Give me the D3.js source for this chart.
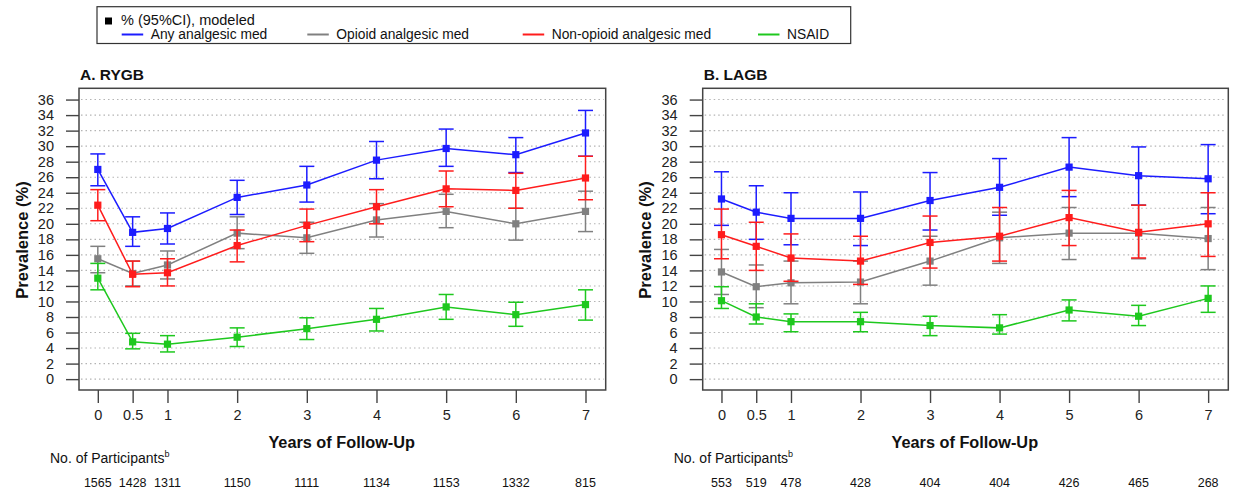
<!DOCTYPE html>
<html><head><meta charset="utf-8">
<script src="https://cdn.jsdelivr.net/npm/d3@7"></script>
<style>
html,body{margin:0;padding:0;background:#fff;}
svg{display:block;font-family:"Liberation Sans",Arial,sans-serif;}
</style></head>
<body>
<svg id="chart" width="1233" height="491"></svg>
<script>
// ---- data ----
const years = [0, 0.5, 1, 2, 3, 4, 5, 6, 7];
const yearLabels = ["0", "0.5", "1", "2", "3", "4", "5", "6", "7"];
const yTickValues = [0,2,4,6,8,10,12,14,16,18,20,22,24,26,28,30,32,34,36];
const seriesNames = ["Any analgesic med", "Opioid analgesic med", "Non-opioid analgesic med", "NSAID"];
const seriesColors = ["#1c1cff", "#808080", "#ff1c1c", "#1ec81e"];
const panelTitles = ["A. RYGB", "B. LAGB"];

// [estimate, lower CI, upper CI]
const rygbAny = [[27.0,24.9,29.0],[18.9,17.1,20.9],[19.4,17.4,21.4],[23.4,21.2,25.6],[25.0,22.8,27.4],[28.2,25.8,30.6],[29.7,27.4,32.2],[28.9,26.6,31.1],[31.7,28.7,34.6]];
const rygbOpioid = [[15.5,13.7,17.1],[13.6,12.0,15.2],[14.7,12.9,16.5],[18.8,16.8,20.9],[18.2,16.2,20.2],[20.5,18.3,22.6],[21.6,19.5,23.8],[20.0,17.9,22.0],[21.6,19.0,24.2]];
const rygbNonOpioid = [[22.4,20.4,24.4],[13.5,11.9,15.2],[13.7,12.0,15.5],[17.2,15.1,19.2],[19.8,17.7,21.9],[22.2,20.0,24.4],[24.5,22.2,26.8],[24.3,22.0,26.5],[25.9,23.1,28.7]];
const rygbNSAID = [[13.0,11.5,14.9],[4.8,3.9,5.9],[4.5,3.5,5.6],[5.4,4.2,6.6],[6.5,5.1,7.9],[7.7,6.2,9.1],[9.3,7.7,10.9],[8.3,6.8,9.9],[9.6,7.6,11.5]];

const lagbAny = [[23.2,19.8,26.7],[21.5,18.0,24.9],[20.7,17.3,24.0],[20.7,17.2,24.1],[23.0,19.2,26.6],[24.7,21.1,28.4],[27.3,23.5,31.1],[26.2,22.4,29.9],[25.8,21.3,30.2]];
const lagbOpioid = [[13.8,10.9,16.7],[11.9,9.2,14.7],[12.4,9.7,15.2],[12.5,9.7,15.2],[15.2,12.1,18.4],[18.2,14.9,21.5],[18.8,15.4,22.1],[18.8,15.5,22.4],[18.1,14.1,22.1]];
const lagbNonOpioid = [[18.6,15.5,21.9],[17.1,14.0,20.2],[15.6,12.6,18.7],[15.2,12.2,18.4],[17.6,14.3,21.0],[18.4,15.2,22.1],[20.8,17.2,24.3],[18.9,15.6,22.4],[20.0,15.8,24.0]];
const lagbNSAID = [[10.1,9.1,11.9],[8.0,7.1,9.7],[7.4,6.1,8.4],[7.4,6.1,8.6],[6.9,5.6,8.1],[6.6,5.8,8.3],[8.9,7.5,10.2],[8.1,6.9,9.5],[10.4,8.6,12.0]];

const rygbN = [1565, 1428, 1311, 1150, 1111, 1134, 1153, 1332, 815];
const lagbN = [553, 519, 478, 428, 404, 404, 426, 465, 268];

// ---- layout ----
const svg = d3.select("#chart");
const panels = [
  {title: panelTitles[0], left: 79, right: 605.7, series: [rygbAny, rygbOpioid, rygbNonOpioid, rygbNSAID], n: rygbN},
  {title: panelTitles[1], left: 702.7, right: 1228.3, series: [lagbAny, lagbOpioid, lagbNonOpioid, lagbNSAID], n: lagbN}
];
const plotTop = 88.3, plotBottom = 390;

panels.forEach(p => {
  const x = d3.scaleLinear().domain([-0.27, 7.29]).range([p.left, p.right]);
  const y = d3.scaleLinear().domain([-1.4, 37.45]).range([plotBottom, plotTop]);
  const g = svg.append("g");

  // grid
  g.selectAll("line.grid").data(yTickValues).join("line").attr("class", "grid")
    .attr("x1", p.left + 2).attr("x2", p.right - 2)
    .attr("y1", d => y(d)).attr("y2", d => y(d))
    .attr("stroke", "#b4b4b4").attr("stroke-width", 1.1)
    .attr("stroke-dasharray", "1.5,3");

  // axes
  const ya = d3.axisLeft(y).tickValues(yTickValues).tickSize(13).tickPadding(12).tickFormat(d3.format("d"));
  const yg = g.append("g").attr("transform", `translate(${p.left},0)`).call(ya);
  const xa = d3.axisBottom(x).tickValues(years).tickSize(13).tickPadding(7).tickFormat((d, i) => yearLabels[i]);
  const xg = g.append("g").attr("transform", `translate(0,${plotBottom})`).call(xa);
  [yg, xg].forEach(a => {
    a.select(".domain").remove();
    a.selectAll(".tick line").attr("stroke", "#444").attr("stroke-width", 1.4);
    a.selectAll(".tick text").attr("fill", "#222").style("font-size", "14.5px").style("font-family", '"Liberation Sans",Arial,sans-serif');
  });

  // box
  g.append("rect").attr("x", p.left).attr("y", plotTop).attr("width", p.right - p.left).attr("height", plotBottom - plotTop)
    .attr("fill", "none").attr("stroke", "#444").attr("stroke-width", 1.5);

  // series
  p.series.forEach((s, si) => {
    const col = seriesColors[si];
    const sg = g.append("g");
    s.forEach((d, i) => {
      const cx = x(years[i]);
      sg.append("line").attr("x1", cx).attr("x2", cx).attr("y1", y(d[1])).attr("y2", y(d[2])).attr("stroke", col).attr("stroke-width", 1.5);
      [d[1], d[2]].forEach(v => sg.append("line").attr("x1", cx - 7.5).attr("x2", cx + 7.5).attr("y1", y(v)).attr("y2", y(v)).attr("stroke", col).attr("stroke-width", 1.5));
    });
    const line = d3.line().x((d, i) => x(years[i])).y(d => y(d[0]));
    sg.append("path").datum(s).attr("d", line).attr("fill", "none").attr("stroke", col).attr("stroke-width", 1.5);
    sg.selectAll("rect").data(s).join("rect")
      .attr("x", (d, i) => x(years[i]) - 3.6).attr("y", d => y(d[0]) - 3.6)
      .attr("width", 7.2).attr("height", 7.2).attr("fill", col);
  });

  // titles
  g.append("text").attr("x", p.left + 1).attr("y", 80).text(p.title)
    .style("font-size", "15.5px").style("font-weight", "bold").attr("fill", "#111");
  g.append("text").attr("transform", `translate(${p.left - 57},240) rotate(-90)`)
    .attr("text-anchor", "middle").attr("dy", "0.35em").text("Prevalence (%)")
    .style("font-size", "16.5px").style("font-weight", "bold").attr("fill", "#111");
  g.append("text").attr("x", (x(0) + x(7)) / 2).attr("y", 448.3).attr("text-anchor", "middle")
    .text("Years of Follow-Up").style("font-size", "16.3px").style("font-weight", "bold").attr("fill", "#111");
  const np = g.append("text").attr("x", p.left - 29).attr("y", 463).style("font-size", "14px").attr("fill", "#111");
  np.append("tspan").text("No. of Participants");
  np.append("tspan").text("b").attr("dy", -6).style("font-size", "9px");
  g.selectAll("text.n").data(p.n).join("text").attr("class", "n")
    .attr("x", (d, i) => x(years[i])).attr("y", 486.5).attr("text-anchor", "middle")
    .text(d => d).style("font-size", "12.5px").attr("fill", "#111");
});

// ---- legend ----
const lg = svg.append("g");
lg.append("rect").attr("x", 97).attr("y", 6.7).attr("width", 753.7).attr("height", 36.8)
  .attr("fill", "#fff").attr("stroke", "#333").attr("stroke-width", 1.2);
lg.append("rect").attr("x", 105).attr("y", 17.5).attr("width", 7).attr("height", 7).attr("fill", "#000");
lg.append("text").attr("x", 121).attr("y", 25.3).text("% (95%CI), modeled").style("font-size", "14.5px").attr("fill", "#111");
const legX = [121.7, 307.3, 522.7, 758];
seriesNames.forEach((nm, i) => {
  lg.append("line").attr("x1", legX[i]).attr("x2", legX[i] + 21.5).attr("y1", 34.5).attr("y2", 34.5)
    .attr("stroke", seriesColors[i]).attr("stroke-width", 2);
  lg.append("text").attr("x", legX[i] + 29).attr("y", 39.3).text(nm).style("font-size", "13.8px").attr("fill", "#111");
});
</script>
</body></html>
